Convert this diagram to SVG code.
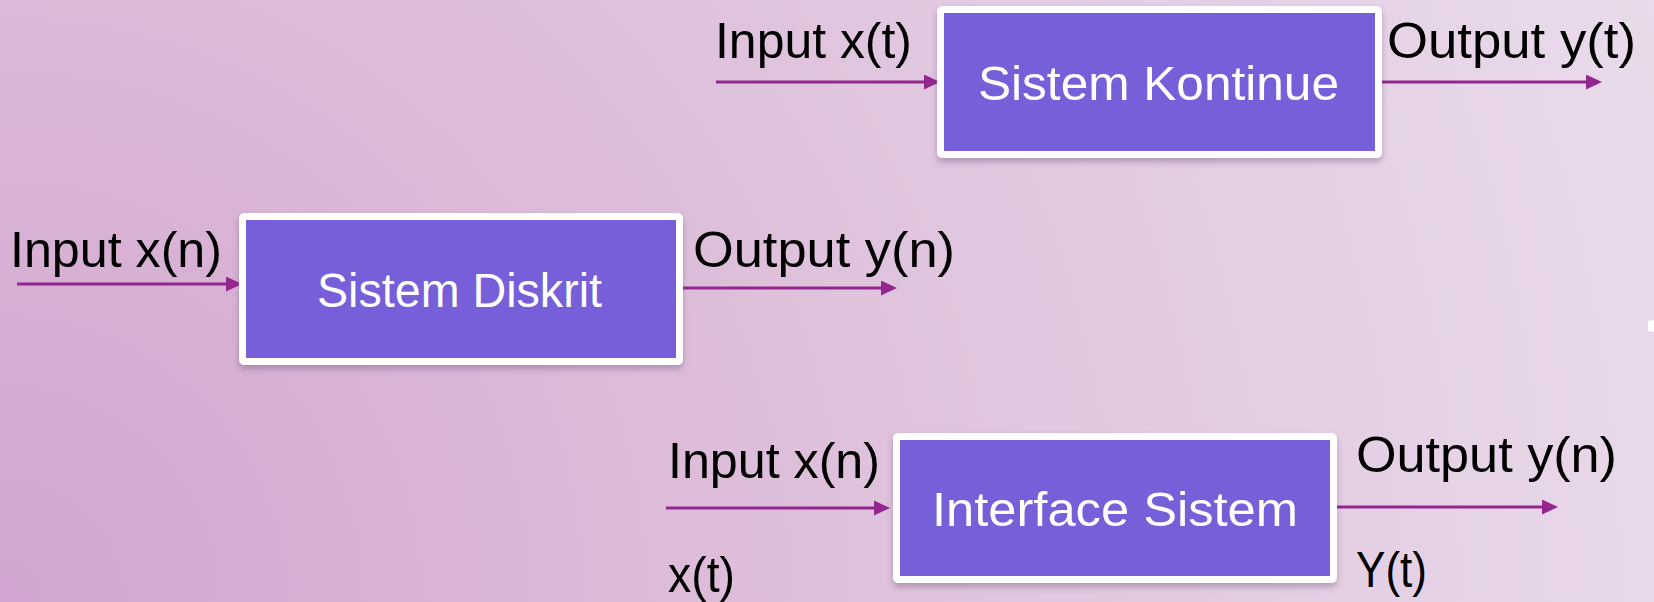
<svg xmlns="http://www.w3.org/2000/svg" width="1654" height="602" viewBox="0 0 1654 602">
  <defs>
    <radialGradient id="bg" cx="0" cy="602" r="1800" fx="0" fy="602" gradientUnits="userSpaceOnUse">
      <stop offset="0" stop-color="#d1a5cf"/>
      <stop offset="0.35" stop-color="#dcbad8"/>
      <stop offset="0.7" stop-color="#e3cde2"/>
      <stop offset="1" stop-color="#eadcec"/>
    </radialGradient>
    <filter id="sh" x="-10%" y="-10%" width="120%" height="130%">
      <feDropShadow dx="0" dy="4" stdDeviation="3" flood-color="#5a3a6a" flood-opacity="0.35"/>
    </filter>
    <marker id="ah" viewBox="0 0 16 15" refX="2" refY="7.5" markerWidth="16" markerHeight="15" markerUnits="userSpaceOnUse" orient="auto">
      <path d="M0,0 L16,7.5 L0,15 z" fill="#93278f"/>
    </marker>
  </defs>
  <style>
    .box { fill: #765fd9; stroke: #ffffff; stroke-width: 7; filter: url(#sh); }
    .lbl { font-family: "Liberation Sans", Arial, sans-serif; font-size: 50px; fill: #000000; }
    .in { font-family: "Liberation Sans", Arial, sans-serif; font-size: 48px; fill: #ffffff; }
    .conn line { stroke: #93278f; stroke-width: 3; marker-end: url(#ah); }
  </style>
  <rect x="0" y="0" width="1654" height="602" fill="url(#bg)"/>
  <polygon points="1648,321 1654,320 1654,332 1648,331" fill="#ffffff"/>

  <g id="connectors" class="conn">
    <line x1="716" y1="82" x2="926" y2="82"/>
    <line x1="1378" y1="82" x2="1588" y2="82"/>
    <line x1="17" y1="284" x2="228" y2="284"/>
    <line x1="673" y1="288" x2="883" y2="288"/>
    <line x1="666" y1="508" x2="876" y2="508"/>
    <line x1="1334" y1="507" x2="1544" y2="507"/>
  </g>

  <g id="node-kontinue">
    <rect class="box" x="940.5" y="9.5" width="438" height="145" rx="2"/>
    <text class="in" x="978" y="100" textLength="361" lengthAdjust="spacingAndGlyphs">Sistem Kontinue</text>
  </g>
  <g id="node-diskrit">
    <rect class="box" x="242.5" y="216.5" width="437" height="145" rx="2"/>
    <text class="in" x="317" y="307" textLength="285" lengthAdjust="spacingAndGlyphs">Sistem Diskrit</text>
  </g>
  <g id="node-interface">
    <rect class="box" x="896.5" y="436.5" width="437" height="143" rx="2"/>
    <text class="in" x="932" y="526" textLength="366" lengthAdjust="spacingAndGlyphs">Interface Sistem</text>
  </g>

  <g id="labels">
    <text class="lbl" x="715" y="58" textLength="197" lengthAdjust="spacingAndGlyphs">Input x(t)</text>
    <text class="lbl" x="1387" y="58" textLength="249" lengthAdjust="spacingAndGlyphs">Output y(t)</text>
    <text class="lbl" x="10" y="267" textLength="212" lengthAdjust="spacingAndGlyphs">Input x(n)</text>
    <text class="lbl" x="693" y="267" textLength="262" lengthAdjust="spacingAndGlyphs">Output y(n)</text>
    <text class="lbl" x="668" y="478" textLength="212" lengthAdjust="spacingAndGlyphs">Input x(n)</text>
    <text class="lbl" x="1356" y="472" textLength="261" lengthAdjust="spacingAndGlyphs">Output y(n)</text>
    <text class="lbl" x="668" y="592" textLength="67" lengthAdjust="spacingAndGlyphs">x(t)</text>
    <text class="lbl" x="1356" y="587" textLength="71" lengthAdjust="spacingAndGlyphs">Y(t)</text>
  </g>
</svg>
